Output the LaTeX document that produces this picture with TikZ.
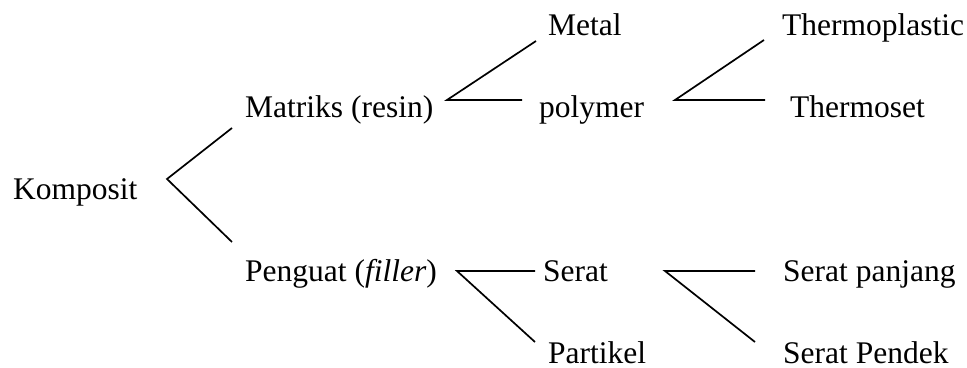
\documentclass[tikz,border=0pt]{standalone}
\usepackage{fontspec}
\setmainfont{Liberation Serif}
\begin{document}
\begin{tikzpicture}[x=1pt,y=-1pt,
  lbl/.style={anchor=base west,inner sep=0pt,font=\fontsize{31.5}{38}\selectfont},
  branch/.style={line width=1.7pt,line join=miter}]
\useasboundingbox (0,0) rectangle (967,367);

% labels
\node[lbl] (komposit) at (13,199) {Komposit};
\node[lbl] (matriks)  at (245,117) {Matriks (resin)};
\node[lbl] (penguat)  at (245,281) {Penguat (\textit{filler})};
\node[lbl] (metal)    at (548,35)  {Metal};
\node[lbl] (polymer)  at (539,117) {polymer};
\node[lbl] (thermopl) at (782,35)  {Thermoplastic};
\node[lbl] (thermose) at (790,117) {Thermoset};
\node[lbl] (serat)    at (543,281) {Serat};
\node[lbl] (partikel) at (548,363) {Partikel};
\node[lbl] (panjang)  at (783,281) {Serat panjang};
\node[lbl] (pendek)   at (783,363) {Serat Pendek};

% branch points and line ends
\coordinate (vK) at (167,179);
\coordinate (kM) at (232,128);
\coordinate (kP) at (232,242);

\coordinate (vM) at (447,100);
\coordinate (mMetal) at (536,41);
\coordinate (mPoly)  at (522,100);

\coordinate (vPoly) at (675,100);
\coordinate (pTpl)  at (764,40);
\coordinate (pTset) at (765,100);

\coordinate (vP) at (457,271);
\coordinate (pSerat) at (535,271);
\coordinate (pPart)  at (535,342);

\coordinate (vS) at (665,271);
\coordinate (sPanj) at (755,271);
\coordinate (sPend) at (755,342);

% connectors
\draw[branch] (kM) -- (vK) -- (kP);
\draw[branch] (mMetal) -- (vM) -- (mPoly);
\draw[branch] (pTpl) -- (vPoly) -- (pTset);
\draw[branch] (pSerat) -- (vP) -- (pPart);
\draw[branch] (sPanj) -- (vS) -- (sPend);
\end{tikzpicture}
\end{document}
